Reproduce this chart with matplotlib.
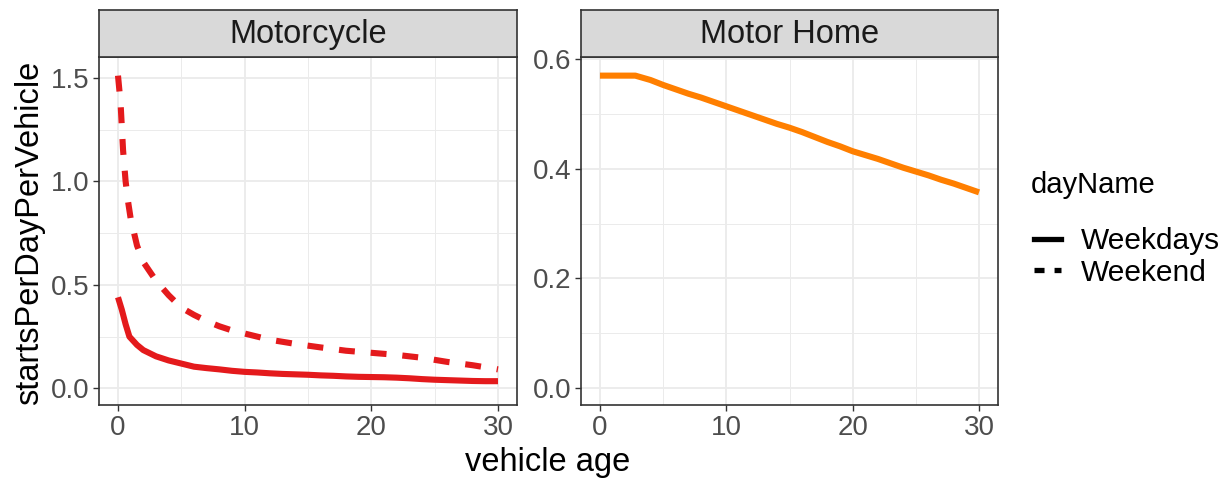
import numpy as np
import matplotlib
matplotlib.use('Agg')
import matplotlib.pyplot as plt
from matplotlib.lines import Line2D

plt.rcParams['font.family'] = ['Liberation Sans', 'DejaVu Sans']

# Motorcycle
moto_wd_age = [0, 0.3, 0.6, 0.9, 1.5, 2, 3, 4, 5, 6, 7, 8, 9, 10, 11, 12, 13, 14, 15,
               16, 17, 18, 19, 20, 21, 22, 23, 24, 25, 26, 27, 28, 29, 30]
moto_wd = [0.44, 0.38, 0.31, 0.25, 0.21, 0.185, 0.155, 0.135, 0.12, 0.105, 0.098, 0.092,
           0.085, 0.08, 0.077, 0.073, 0.070, 0.068, 0.066, 0.063, 0.061, 0.058, 0.056,
           0.055, 0.054, 0.052, 0.049, 0.045, 0.042, 0.040, 0.038, 0.036, 0.035, 0.035]
moto_we_age = [0, 0.2, 0.4, 0.6, 0.8, 1.0, 1.5, 2, 3, 4, 5, 6, 7, 8, 9, 10, 12, 14, 16,
               18, 20, 22, 24, 26, 28, 30]
moto_we = [1.51, 1.38, 1.15, 1.0, 0.9, 0.82, 0.69, 0.61, 0.52, 0.45, 0.39, 0.355, 0.325,
           0.30, 0.28, 0.265, 0.235, 0.215, 0.198, 0.182, 0.172, 0.162, 0.148, 0.128,
           0.112, 0.092]

# Motor Home
home_age = [0, 1, 2, 2.8, 4, 5, 6, 7, 8, 9, 10, 11, 12, 13, 14, 15, 16, 17, 18, 19, 20,
            21, 22, 23, 24, 25, 26, 27, 28, 29, 30]
home = [0.570, 0.570, 0.570, 0.570, 0.562, 0.553, 0.545, 0.537, 0.530, 0.522, 0.514,
        0.506, 0.498, 0.490, 0.482, 0.475, 0.467, 0.458, 0.449, 0.441, 0.432, 0.425,
        0.418, 0.410, 0.402, 0.395, 0.388, 0.380, 0.373, 0.365, 0.357]

day_names = ['Weekdays', 'Weekend']

red = '#E41A1C'
orange = '#FF7F00'
txt_gray = '#4D4D4D'
dash = (0, (2.6, 2.6))
lw = 4.4

W, H = 1231, 480
fig = plt.figure(figsize=(W / 100, H / 100), dpi=100)


def make_panel(x0, x1, title, yticks, yminor):
    ax = fig.add_axes([x0 / W, (H - 405) / H, (x1 - x0) / W, 348 / H])
    ax.set_xlim(-1.5, 31.5)
    ax.set_xticks([0, 10, 20, 30])
    ax.set_xticks([5, 15, 25], minor=True)
    ax.set_yticks(yticks)
    ax.set_yticks(yminor, minor=True)
    ax.grid(True, which='major', color='#EBEBEB', lw=1.3)
    ax.grid(True, which='minor', color='#EBEBEB', lw=0.7)
    ax.set_axisbelow(True)
    ax.tick_params(which='major', direction='out', length=4, width=1, color='#333333',
                   labelsize=20, labelcolor=txt_gray, pad=3)
    ax.tick_params(which='minor', length=0)
    for s in ax.spines.values():
        s.set_color('#333333')
        s.set_linewidth(1.2)
    # strip
    st = fig.add_axes([x0 / W, (H - 57) / H, (x1 - x0) / W, 47 / H])
    st.set_facecolor('#D9D9D9')
    st.set_xticks([])
    st.set_yticks([])
    for s in st.spines.values():
        s.set_color('#333333')
        s.set_linewidth(1.2)
    st.text(0.5, 0.47, title, ha='center', va='center', fontsize=23.5, color='#1A1A1A',
            transform=st.transAxes)
    return ax


ax1 = make_panel(99, 517, 'Motorcycle', [0.0, 0.5, 1.0, 1.5], [0.25, 0.75, 1.25])
ax1.plot(moto_wd_age, moto_wd, color=red, lw=lw, solid_capstyle='butt')
ax1.plot(moto_we_age, moto_we, color=red, lw=lw, linestyle=dash)
ax1.set_ylim(-0.08, 1.6)
ax1.set_yticklabels(['0.0', '0.5', '1.0', '1.5'])

ax2 = make_panel(581, 998, 'Motor Home', [0.0, 0.2, 0.4, 0.6], [0.1, 0.3, 0.5])
ax2.plot(home_age, home, color=orange, lw=lw, solid_capstyle='butt')
ax2.set_ylim(-0.031, 0.604)
ax2.set_yticklabels(['0.0', '0.2', '0.4', '0.6'])

fig.text(548 / W, 1 - 462 / H, 'vehicle age', ha='center', va='center', fontsize=23.5,
         color='black')
fig.text(30 / W, 1 - 233 / H, 'startsPerDayPerVehicle', ha='center', va='center',
         fontsize=23.5, rotation=90, color='black')

# legend
fig.text(1031 / W, 1 - 185 / H, 'dayName', ha='left', va='center', fontsize=21,
         color='black')
handles = [Line2D([], [], color='black', lw=3.8),
           Line2D([], [], color='black', lw=3.8, linestyle=(0, (1.9, 1.9)))]
leg = fig.legend(handles, day_names, loc='upper left',
                 bbox_to_anchor=(1034 / W, 1 - 227 / H),
                 frameon=False, fontsize=21.5, handlelength=0.92,
                 handletextpad=0.65, labelspacing=0.12, borderaxespad=0, borderpad=0)

fig.savefig('out.png', dpi=100)
